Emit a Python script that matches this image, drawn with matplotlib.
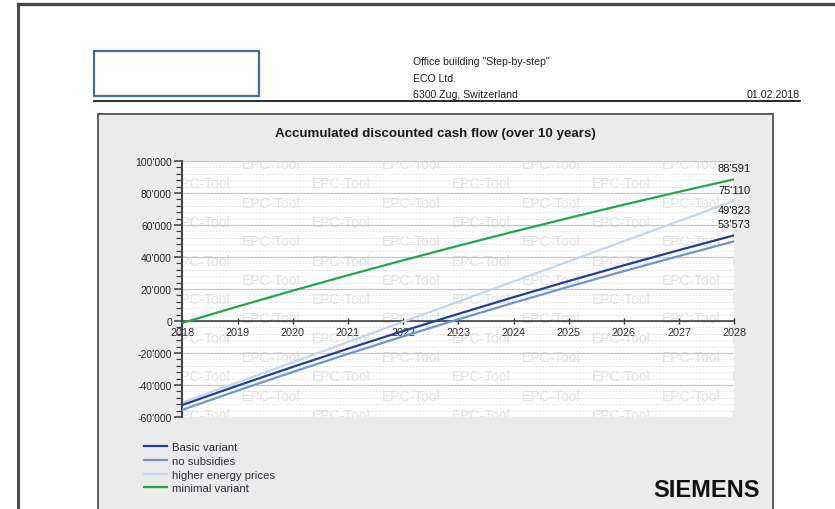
import matplotlib
matplotlib.use("Agg")
import matplotlib.pyplot as plt
from matplotlib.patches import Rectangle
from matplotlib.lines import Line2D
from matplotlib.ticker import FuncFormatter, MultipleLocator

plt.rcParams['font.family'] = ['Liberation Sans', 'DejaVu Sans']

years = [2018, 2019, 2020, 2021, 2022, 2023, 2024, 2025, 2026, 2027, 2028]
basic_variant = [-52500, -40427, -28706, -17326, -6278, 4449, 14863, 24974, 34791, 44322, 53573]
no_subsidies = [-55500, -43513, -31875, -20576, -9606, 1044, 11384, 21423, 31170, 40633, 49823]
higher_energy = [-51000, -38400, -25800, -13150, -500, 12100, 24700, 37300, 49900, 62500, 75110]
minimal_variant = [-1200, 9020, 18943, 28577, 37930, 47011, 55827, 64386, 72696, 80764, 88591]

series_names = ["Basic variant", "no subsidies", "higher energy prices", "minimal variant"]
title = "Accumulated discounted cash flow (over 10 years)"
header_lines = ['Office building "Step-by-step"', "ECO Ltd.", "6300 Zug, Switzerland"]
date_text = "01.02.2018"
watermark = "EPC-Tool"

W, H = 835, 510
fig = plt.figure(figsize=(W / 100, H / 100), dpi=100)
fig.patch.set_facecolor("white")

def fx(px):
    return px / W

def fy(py):
    return 1 - py / H

# page frame (top and left edges only)
fig.add_artist(Line2D([fx(18), fx(835)], [fy(5), fy(5)], transform=fig.transFigure,
                      color="#4a4a4a", lw=2.4, zorder=-5))
fig.add_artist(Line2D([fx(18), fx(18)], [fy(5), fy(510)], transform=fig.transFigure,
                      color="#4a4a4a", lw=2.2, zorder=-5))
# blue box
fig.add_artist(Rectangle((fx(94), fy(97)), fx(259) - fx(94), fy(52) - fy(97),
                         transform=fig.transFigure, facecolor="none", edgecolor="#41709f", lw=1.6,
                         zorder=-5))
# header text
for i, t in enumerate(header_lines):
    fig.text(fx(413), fy(62 + i * 16.5), t, fontsize=7.6, color="#222222", va="center", ha="left")
fig.text(fx(800), fy(95), date_text, fontsize=7.7, color="#222222", va="center", ha="right")
fig.add_artist(Line2D([fx(94), fx(800)], [fy(102), fy(102)], transform=fig.transFigure,
                      color="#1a1a1a", lw=1.3, zorder=-5))
# chart panel
fig.add_artist(Rectangle((fx(97.5), fy(515)), fx(773) - fx(97.5), fy(114.5) - fy(515),
                         transform=fig.transFigure, facecolor="#ebebeb", edgecolor="#505050", lw=1.3,
                         zorder=-4))
fig.text(fx(435.5), fy(134.5), title, fontsize=9.6, fontweight="bold", color="#1a1a1a",
         ha="center", va="center")

# axes
x0, x1 = 182.3, 734.3
y_top, y_bot = 162, 418
ax = fig.add_axes([fx(x0), fy(y_bot), fx(x1) - fx(x0), fy(y_top) - fy(y_bot)])
ax.set_zorder(1)
ax.set_facecolor("white")
ax.set_xlim(2018, 2028)
ax.set_ylim(-60000, 100000)

# watermark
for k in range(14):
    py = 165 + 19.3 * k
    starts = [242, 382, 522, 662] if k % 2 == 0 else [172, 312, 452, 592, 732]
    for sx in starts:
        ax.text((sx - x0) / (x1 - x0), (y_bot - py) / (y_bot - y_top), watermark,
                transform=ax.transAxes, fontsize=10, color="#e3e3e3", ha="left", va="center",
                clip_on=True, zorder=0.5)

ax.yaxis.set_major_locator(MultipleLocator(20000))
ax.yaxis.set_minor_locator(MultipleLocator(4000))
ax.set_xticks(years)
ax.grid(True, which="major", axis="y", color="#c8c8c8", lw=0.9, zorder=0.4)
ax.grid(True, which="minor", axis="y", color="#dcdcdc", lw=0.6, ls=(0, (2, 2)), zorder=0.4)
ax.set_axisbelow(True)

for s in ["top", "right"]:
    ax.spines[s].set_visible(False)
ax.spines["bottom"].set_position(("data", 0))
ax.spines["bottom"].set_color("#333333")
ax.spines["bottom"].set_linewidth(1.1)
ax.spines["bottom"].set_zorder(1)
ax.spines["left"].set_color("#404040")
ax.spines["left"].set_linewidth(1.4)

ax.yaxis.set_major_formatter(FuncFormatter(lambda v, p: f"{int(v):,}".replace(",", "'")))
ax.tick_params(axis="y", which="major", direction="out", length=6, width=1.1, color="#404040",
               labelsize=7.5, labelcolor="#2a2a2a", pad=1.5)
ax.tick_params(axis="y", which="minor", direction="out", length=4.5, width=0.9, color="#404040")
ax.tick_params(axis="x", which="major", direction="inout", length=4, width=1.0, color="#333333",
               labelsize=7.8, labelcolor="#2a2a2a", pad=2.0)

lw = 1.6
ax.plot(years, higher_energy, color="#c4d7ef", lw=lw, zorder=2, label=series_names[2])
ax.plot(years, no_subsidies, color="#6b95d8", lw=lw, zorder=3, label=series_names[1])
ax.plot(years, basic_variant, color="#1f3f9e", lw=lw, zorder=4, label=series_names[0])
ax.plot(years, minimal_variant, color="#22a84a", lw=lw, zorder=5, label=series_names[3])

# end labels
end_vals = [minimal_variant[-1], higher_energy[-1], no_subsidies[-1], basic_variant[-1]]
extra_up = [0, 0, 20, 0]
for v, e in zip(end_vals, extra_up):
    ax.annotate(f"{v:,}".replace(",", "'"), xy=(years[-1], v), xytext=(11.9, (11 + e) * 0.72),
                textcoords="offset points", ha="right", va="center", fontsize=8,
                color="#1a1a1a", annotation_clip=False, zorder=6)

handles_map = {h.get_label(): h for h in ax.get_lines()}
leg = fig.legend([handles_map[n] for n in series_names], series_names,
                 loc="upper left", bbox_to_anchor=(fx(144), fy(443)), bbox_transform=fig.transFigure,
                 frameon=False, fontsize=8.2, handlelength=2.0, handletextpad=0.43,
                 labelspacing=0.33, borderpad=0, borderaxespad=0)
for t in leg.get_texts():
    t.set_color("#352c3c")

fig.text(fx(760), fy(491), "SIEMENS", fontsize=17, fontweight="bold", color="#111111",
         ha="right", va="center")

fig.savefig("out.png", dpi=100)
